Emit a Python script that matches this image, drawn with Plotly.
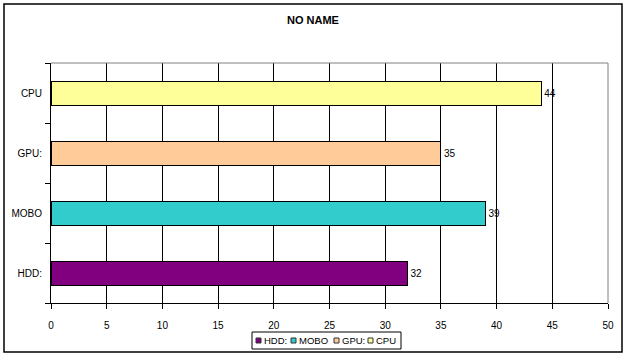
import plotly.graph_objects as go

categories = ["HDD:", "MOBO", "GPU:", "CPU"]
values = [32, 39, 35, 44]
colors = ["#800080", "#33CCCC", "#FFCC99", "#FFFF99"]
x_ticks = [0, 5, 10, 15, 20, 25, 30, 35, 40, 45, 50]
title = "NO NAME"

W, H = 627, 358
L, R, T, B = 51, 19, 63, 55
pw, ph = W - L - R, H - T - B


def px(x):
    return (x - L) / pw


def py(y):
    return (T + ph - y) / ph


FONT = "Liberation Sans, Arial"

fig = go.Figure()
for cat, val, col in zip(categories, values, colors):
    fig.add_trace(go.Bar(
        x=[val], y=[cat], name=cat, orientation="h",
        marker=dict(color=col, line=dict(color="black", width=1)),
        text=[str(val)], textposition="outside", cliponaxis=False,
        textfont=dict(family=FONT, size=10, color="black"),
        showlegend=False,
    ))

fig.update_layout(
    width=W, height=H,
    margin=dict(l=L, r=R, t=T, b=B, autoexpand=False),
    paper_bgcolor="white", plot_bgcolor="white",
    barmode="stack", bargap=0.6,
    title=dict(text="<b>" + title + "</b>", x=px(313), xref="paper", xanchor="center",
               y=1 - 20 / H, yanchor="middle",
               font=dict(family=FONT, size=11, color="black")),
    font=dict(family=FONT, size=10, color="black"),
    xaxis=dict(range=[0, 50], tickvals=x_ticks, showgrid=True, gridcolor="black", gridwidth=1,
               showline=True, linecolor="black", linewidth=1, ticks="outside", ticklen=5,
               tickcolor="black", zeroline=False, fixedrange=True, ticklabelstandoff=8),
    yaxis=dict(categoryorder="array", categoryarray=categories, showline=True,
               linecolor="black", linewidth=1, ticks="outside", ticklen=5, tickcolor="black",
               tickson="boundaries", showgrid=False, fixedrange=True, ticklabelstandoff=6),
)

# plot-area top/right border (gray)
fig.add_shape(type="line", xref="paper", yref="paper", x0=0, x1=1, y0=1, y1=1,
              line=dict(color="#808080", width=1))
fig.add_shape(type="line", xref="paper", yref="paper", x0=1, x1=1, y0=0, y1=1,
              line=dict(color="#808080", width=1))
# outer chart border
fig.add_shape(type="rect", xref="paper", yref="paper",
              x0=px(4), x1=px(622), y0=py(352), y1=py(4),
              line=dict(color="black", width=1.5), layer="below")

# legend (compact, Excel style)
fig.add_shape(type="rect", xref="paper", yref="paper",
              x0=px(252), x1=px(401), y0=py(349), y1=py(332),
              line=dict(color="black", width=1), fillcolor="white", layer="above")
leg_x = [256, 291, 334, 368]
for cat, col, lx in zip(categories, colors, leg_x):
    fig.add_shape(type="rect", xref="paper", yref="paper",
                  x0=px(lx), x1=px(lx + 5), y0=py(343), y1=py(338),
                  line=dict(color="#333333", width=1), fillcolor=col, layer="above")
    fig.add_annotation(text=cat, xref="paper", yref="paper", x=px(lx + 6), y=py(340.5),
                       xanchor="left", yanchor="middle", showarrow=False,
                       font=dict(family=FONT, size=9.5, color="black"))

fig.write_html("out.html")
